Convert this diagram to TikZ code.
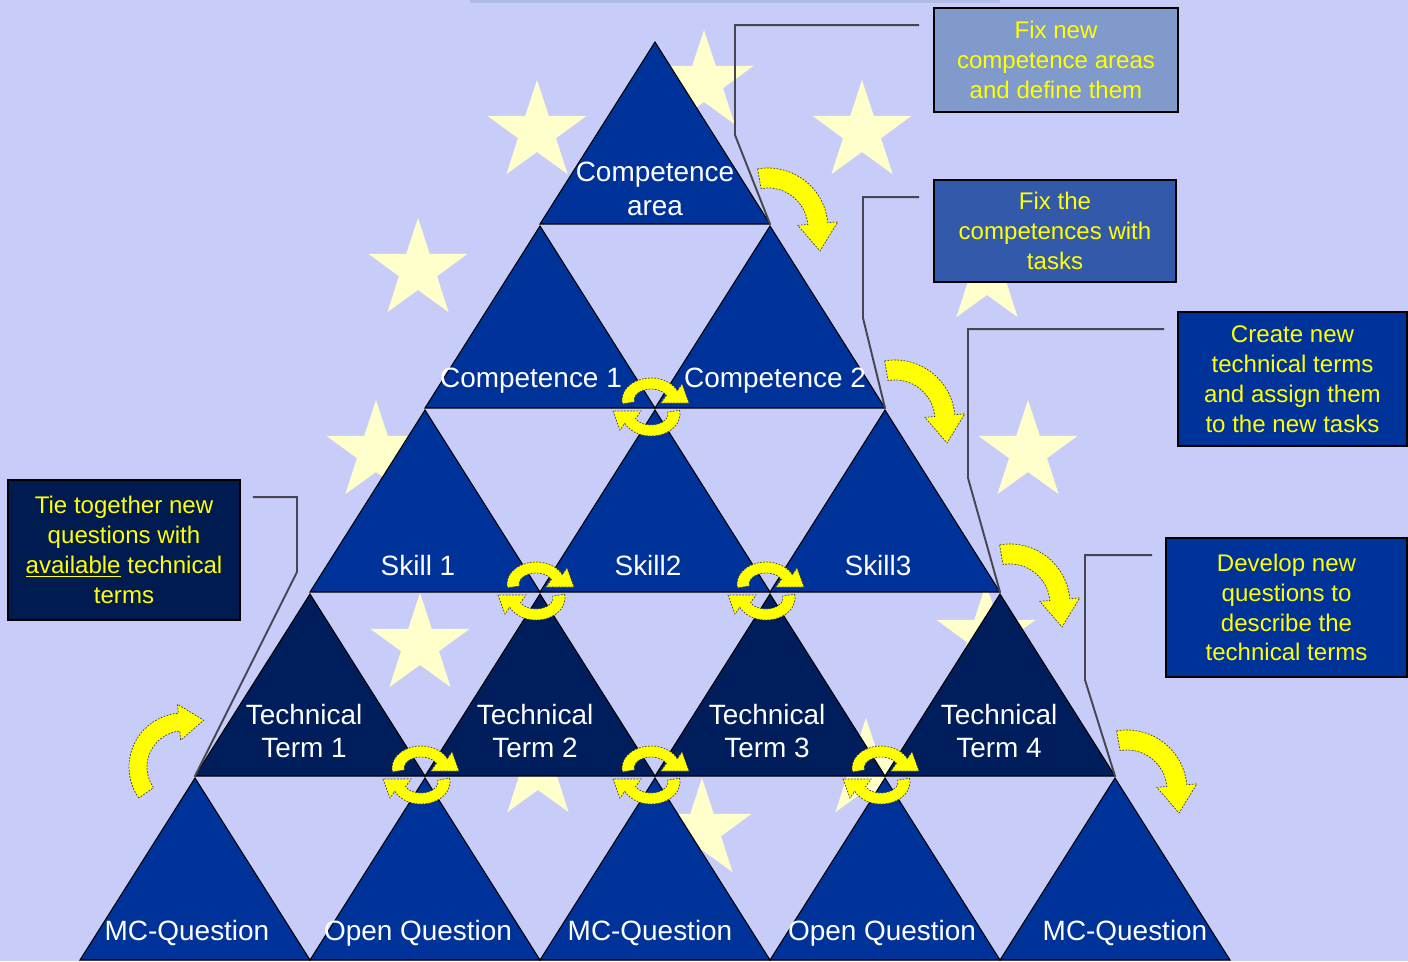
\documentclass[tikz,border=0pt]{standalone}
\usepackage{fontspec}
\setmainfont{Liberation Sans}

\definecolor{lavender}{RGB}{200,204,248}
\definecolor{stripcol}{RGB}{176,188,230}
\definecolor{starcol}{RGB}{255,255,204}
\definecolor{eublue}{RGB}{0,51,153}
\definecolor{navy}{RGB}{0,30,92}
\definecolor{noteA}{RGB}{128,154,204}
\definecolor{noteB}{RGB}{51,90,170}
\definecolor{noteC}{RGB}{0,51,153}
\definecolor{noteD}{RGB}{0,27,80}
\definecolor{noteyellow}{RGB}{255,255,0}
\definecolor{leadgray}{RGB}{70,70,82}

\tikzset{
  tri/.style={draw=black, line width=0.6pt},
  lbl/.style={text=white, font=\fontsize{15.9}{19.2}\selectfont, align=center, inner sep=0pt},
  note/.style={draw=black, line width=1.1pt, text=noteyellow,
    font=\fontsize{13.7}{17}\selectfont, align=center, inner sep=0pt},
  leader/.style={draw=leadgray, line width=1.1pt},
  turn/.style={fill=noteyellow, draw=black!75, line width=0.4pt, dash pattern=on 1pt off 0.8pt},
  % big curved arrow, centre of the arc at the origin (y downwards)
  pics/bigturn/.style={code={
    \begin{scope}[yscale=-1]
    \path[turn] (#1:60) arc[start angle=#1, end angle=-5, radius=60]
      -- (-5:70) -- (52,23) -- (-5:30) -- (-5:40)
      arc[start angle=-5, end angle=#1, radius=40] -- cycle;
    \end{scope}
  }},
  % half of a small cycle
  pics/cycturn/.style={code={
    \begin{scope}[yscale=-1]
    \path[turn] (170:29 and 22) arc[start angle=170, end angle=335, x radius=29, y radius=22]
      -- (31,-16) -- (38,3) -- (10,3) -- (335:17 and 11)
      arc[start angle=335, end angle=170, x radius=17, y radius=11] -- cycle;
    \end{scope}
  }},
  pics/eustar/.style={code={
    \fill[starcol] (90:52) \foreach \a in {126,198,270,342,414}{ -- (\a:20) -- (\a+36:52)} -- cycle;
  }}
}

\begin{document}
\begin{tikzpicture}[x=0.02cm, y=0.02cm, yscale=-1]
  \useasboundingbox (0,0) rectangle (1408,961);
  \fill[lavender] (0,0) rectangle (1408,961);
  \fill[stripcol] (470,0) rectangle (1000,3);

  % stars of the flag
  \foreach \x/\y in {704/82, 537/132, 862/132, 418/270, 987/275, 1028/452,
                     376/452, 420/645, 986/636, 866/770, 538/770, 702/830}
    \path (\x,\y) pic{eustar};

  % the pyramid
  \foreach \k/\col in {0/eublue, 1/eublue, 2/eublue, 3/navy, 4/eublue}{
    \foreach \j in {0,...,\k}{
      \filldraw[tri, fill=\col] ({655-115*\k+230*\j},{42+184*\k}) coordinate (t-\k-\j-t)
        -- ++(115,182) coordinate (t-\k-\j-r)
        -- ++(-230,0) coordinate (t-\k-\j-l) -- cycle;
    }
  }

  \node[lbl] (area) at (655,189) {Competence\\area};
  \node[lbl] (comp1) at (531,381) {Competence 1};
  \node[lbl] (comp2) at (775,381) {Competence 2};
  \node[lbl] (skill1) at (418,565) {Skill 1};
  \node[lbl] (skill2) at (648,565) {Skill2};
  \node[lbl] (skill3) at (878,565) {Skill3};
  \node[lbl] (term1) at (304,731) {Technical\\Term 1};
  \node[lbl] (term2) at (535,731) {Technical\\Term 2};
  \node[lbl] (term3) at (767,731) {Technical\\Term 3};
  \node[lbl] (term4) at (999,731) {Technical\\Term 4};
  \node[lbl] (quest1) at (187,933) {MC-Question};
  \node[lbl] (quest2) at (418,933) {Open Question};
  \node[lbl] (quest3) at (650,933) {MC-Question};
  \node[lbl] (quest4) at (882,933) {Open Question};
  \node[lbl] (quest5) at (1125,933) {MC-Question};

  % notes
  \node[note, fill=noteA, minimum width=4.88cm, minimum height=2.08cm] (fixarea) at (1056,60)
    {Fix new\\competence areas\\and define them};
  \node[note, fill=noteB, minimum width=4.84cm, minimum height=2.04cm] (fixcomp) at (1055,231)
    {Fix the\\competences with\\tasks};
  \node[note, fill=noteC, minimum width=4.58cm, minimum height=2.68cm] (fixterm) at (1292.5,379)
    {Create new\\technical terms\\and assign them\\to the new tasks};
  \node[note, fill=noteC, minimum width=4.82cm, minimum height=2.78cm] (fixquest) at (1286.5,607.5)
    {Develop new\\questions to\\describe the\\technical terms};
  \node[note, fill=noteD, minimum width=4.64cm, minimum height=2.8cm] (tiequest) at (124,550)
    {Tie together new\\questions with\\\underline{available} technical\\terms};

  \draw[leader] (fixarea.north west) ++(-14,18) -| (735,135) -- (t-0-0-r);
  \draw[leader] (fixcomp.north west) ++(-14,18) -| (863,318) -- (t-1-1-r);
  \draw[leader] (fixterm.north west) ++(-13,18) -| (968,478) -- (t-2-2-r);
  \draw[leader] (fixquest.north west) ++(-13,18) -| (1085,680) -- (t-3-3-r);
  \draw[leader] (tiequest.north east) ++(12,18) -| (297,572) -- (t-3-0-l);

  % curved arrows
  \path (t-0-0-r) ++(-2,4) pic{bigturn=-100};
  \path (t-1-1-r) ++(10,12) pic{bigturn=-100};
  \path (t-2-2-r) ++(10,12) pic{bigturn=-100};
  \path (t-3-3-r) ++(12,14) pic{bigturn=-100};
  \path (t-3-0-l) ++(-12,-9) pic[rotate=90, scale=0.9]{bigturn=-125};

  \foreach \v in {1-0, 2-0, 2-1, 3-0, 3-1, 3-2}{
    \path (t-\v-r) ++(-4,-8) pic{cycturn};
    \path (t-\v-r) ++(-4,6) pic[rotate=180]{cycturn};
  }
\end{tikzpicture}
\end{document}
